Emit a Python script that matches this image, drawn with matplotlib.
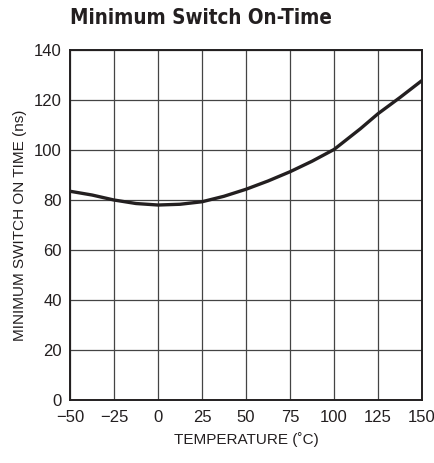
import matplotlib
matplotlib.use("Agg")
from matplotlib import pyplot as plt
from matplotlib import font_manager
import numpy as np

# curva
temp = [-50, -37.5, -25, -12.5, 0, 12.5, 25, 37.5, 50, 62.5, 75, 87.5, 100, 104, 115, 125, 137.5, 150]
t_on = [83.5, 82.0, 80.0, 78.6, 78.0, 78.3, 79.3, 81.5, 84.3, 87.6, 91.3, 95.5, 100.2, 102.4, 108.5, 114.5, 121.0, 127.8]

xticks = [-50, -25, 0, 25, 50, 75, 100, 125, 150]
xlabels = ["\u221250", "\u221225", "0", "25", "50", "75", "100", "125", "150"]
yticks = [0, 20, 40, 60, 80, 100, 120, 140]

plt.rcParams['font.family'] = ['Liberation Sans', 'DejaVu Sans']

# titulo en fuente condensada si existe
cond = [f for f in font_manager.fontManager.ttflist
        if f.name == 'DejaVu Sans' and 'ondensed' in f.fname and 'Bold' in f.fname]

fig = plt.figure(figsize=(4.35, 4.63), dpi=100)
ax = fig.add_axes([0.161, 0.136, 0.809, 0.756])

ax.plot(temp, t_on, color='#231f20', lw=2.4, solid_capstyle='butt')

ax.set_xlim(-50, 150)
ax.set_ylim(0, 140)
ax.set_xticks(xticks)
ax.set_xticklabels(xlabels)
ax.set_yticks(yticks)
ax.grid(True, color='#444444', lw=0.9)
ax.tick_params(length=0, labelsize=12, colors='#231f20')
ax.tick_params(axis='x', pad=7)
ax.tick_params(axis='y', pad=6)
for s in ax.spines.values():
    s.set_linewidth(1.4)
    s.set_color('#231f20')

ax.set_xlabel("TEMPERATURE (\u02daC)", fontsize=11, labelpad=5, color='#231f20')
ax.set_ylabel("MINIMUM SWITCH ON TIME (ns)", fontsize=11, labelpad=5, color='#231f20')

if cond:
    fp = font_manager.FontProperties(fname=cond[0].fname, size=14.8)
    fig.text(0.161, 0.962, "Minimum Switch On-Time", fontproperties=fp,
             ha='left', va='center', color='#231f20')
else:
    fig.text(0.163, 0.962, "Minimum Switch On-Time", fontsize=14.5, fontweight='bold',
             ha='left', va='center', color='#231f20')

fig.savefig("out.png", dpi=100)
